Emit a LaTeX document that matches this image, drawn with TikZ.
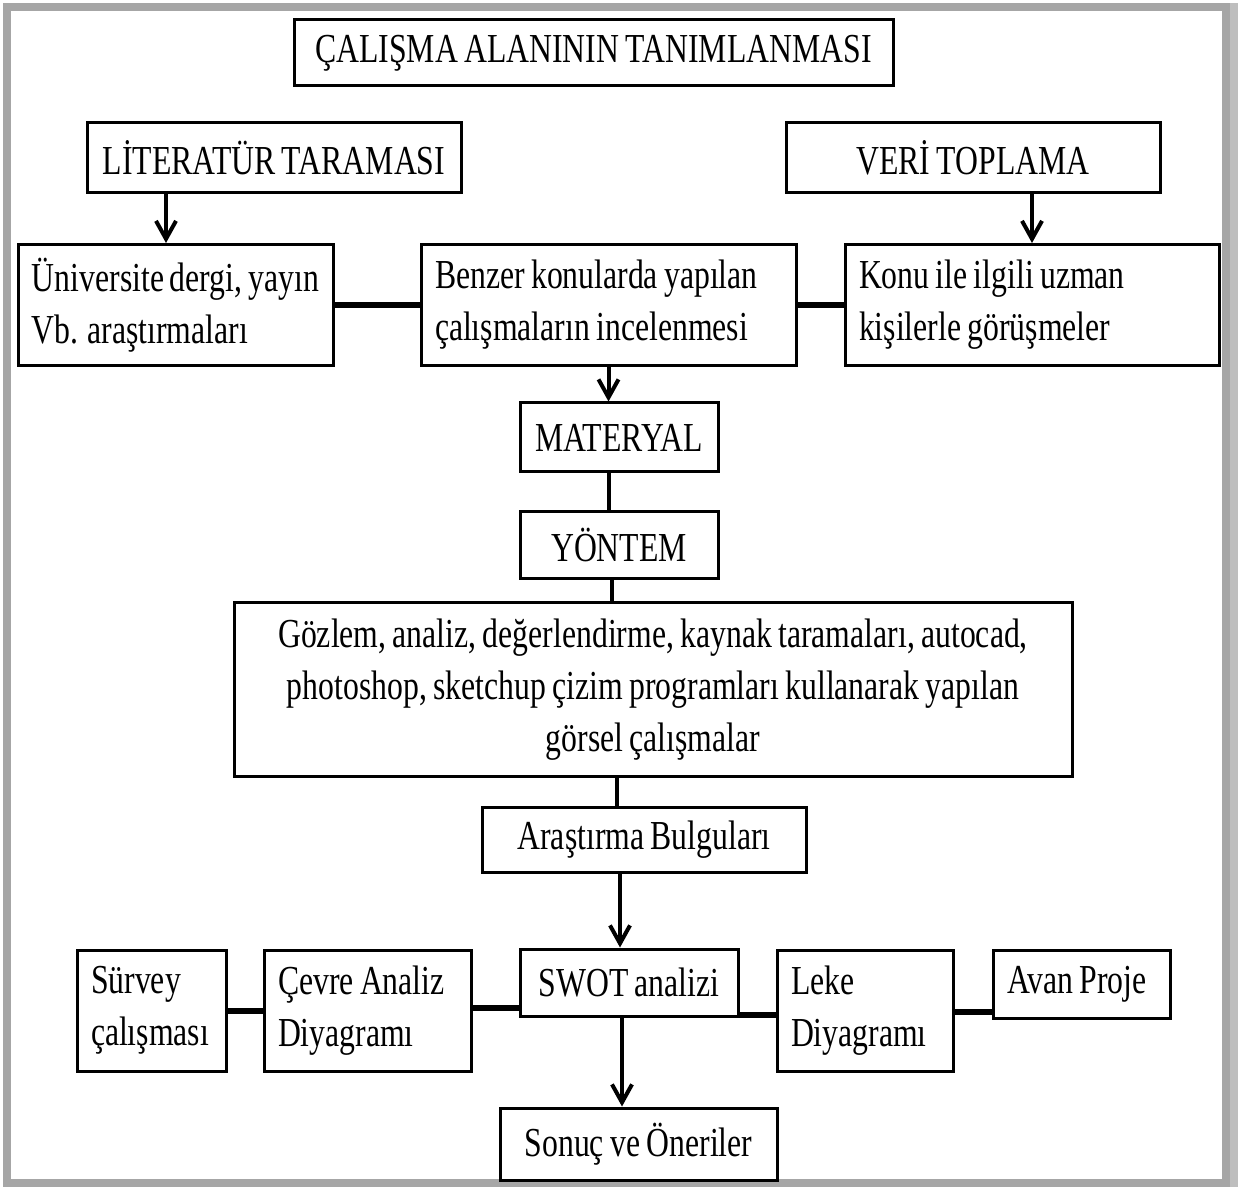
\documentclass[tikz,border=0pt]{standalone}
\usepackage{fontspec}
\setmainfont{Liberation Serif}[FakeStretch=0.77, WordSpace=0.8]
\usepackage{tikz}
\usetikzlibrary{calc}
\usetikzlibrary{arrows.meta}
\definecolor{cerceve}{RGB}{166,166,166}
\definecolor{golge}{RGB}{190,190,190}

\tikzset{
  kutu/.style={draw, line width=1.5pt, rectangle, inner sep=0pt, inner xsep=7pt,
    font=\fontsize{20.6pt}{26pt}\selectfont},
  solkutu/.style={kutu, align=flush left},
  ok/.style={line width=2pt, -{Straight Barb[length=9pt,width=10pt]}},
  bag/.style={line width=2pt},
  kalin/.style={line width=3pt}
}

\begin{document}
\begin{tikzpicture}[x=0.5pt,y=-0.5pt]
  \useasboundingbox (0,0) rectangle (1238,1187);
  % Frame
  \fill[golge] (1226,3) rectangle (1238,1187);
  \draw[cerceve, line width=4pt] (7,7) rectangle (1226,1183);

  % Title
  \node[kutu, minimum width=299.5pt, minimum height=33pt] (baslik) at (593.5,53) {ÇALIŞMA ALANININ TANIMLANMASI};

  % Sources
  \node[kutu, minimum width=187pt, minimum height=35pt] (lit) at (274,158) {LİTERATÜR TARAMASI};
  \node[kutu, minimum width=187pt, minimum height=35pt] (veri) at (973,158) {VERİ TOPLAMA};
  \node[solkutu, text width=143.5pt, minimum height=60.5pt] (uni) at (175.5,305) {Üniversite dergi, yayın\\Vb. araştırmaları};
  \node[solkutu, text width=173.5pt, minimum height=60.5pt] (benzer) at (608.5,305) {Benzer konularda yapılan\\çalışmaların incelenmesi};
  \node[solkutu, text width=173pt, minimum height=60.5pt] (konu) at (1032,305) {Konu ile ilgili uzman\\kişilerle görüşmeler};

  % Method
  \node[kutu, minimum width=99pt, minimum height=34.5pt] (mat) at (619,437.5) {MATERYAL};
  \node[kutu, minimum width=99pt, minimum height=33.5pt] (yon) at (619,545.5) {YÖNTEM};
  \node[kutu, align=center, minimum width=419pt, minimum height=86.5pt] (goz) at (653,689.5) {Gözlem, analiz, değerlendirme, kaynak taramaları, autocad,\\photoshop, sketchup çizim programları kullanarak yapılan\\görsel çalışmalar};
  \node[kutu, minimum width=162pt, minimum height=32.5pt] (aras) at (644,839.5) {Araştırma Bulguları};

  % Analyses
  \node[kutu, minimum width=109pt, minimum height=33.5pt] (swot) at (629,982.5) {SWOT analizi};
  \node[solkutu, text width=60.5pt, minimum height=60.5pt] (survey) at (151.5,1010.5) {Sürvey\\çalışması};
  \node[solkutu, text width=89.5pt, minimum height=60.5pt] (cevre) at (367.5,1010.5) {Çevre Analiz\\Diyagramı};
  \node[solkutu, text width=74pt, minimum height=60.5pt] (leke) at (865,1010.5) {Leke\\Diyagramı};
  \node[solkutu, text width=74.5pt, minimum height=34pt] (avan) at (1081.5,984) {Avan Proje};
  \node[kutu, minimum width=138.5pt, minimum height=36pt] (sonuc) at (638.5,1144) {Sonuç ve Öneriler};

  % Connectors
  \draw[ok] ([xshift=-4.75pt]uni.north |- lit.south) -- ([xshift=-4.75pt]uni.north);
  \draw[ok] (konu.north |- veri.south) -- (konu.north);
  \draw[kalin] (uni.east) -- (benzer.west);
  \draw[kalin] (benzer.east) -- (konu.west);
  \draw[ok] (benzer.south) -- (benzer.south |- mat.north);
  \draw[bag] ([xshift=-5pt]mat.south) -- ([xshift=-5pt]yon.north);
  \draw[bag] ([xshift=-3.5pt]yon.south) -- ([xshift=-3.5pt]yon.south |- goz.north);
  \draw[bag] ([xshift=-13.5pt]aras.north |- goz.south) -- ([xshift=-13.5pt]aras.north);
  \draw[ok] ([xshift=-4.5pt]swot.north |- aras.south) -- ([xshift=-4.5pt]swot.north);
  \draw[ok] ([xshift=-3.5pt]swot.south) -- ([xshift=-3.5pt]swot.south |- sonuc.north);
  \draw[kalin] (survey.east) -- (cevre.west);
  \draw[kalin] ([yshift=-12.75pt]swot.west -| cevre.east) -- ([yshift=-12.75pt]swot.west);
  \draw[kalin] ([yshift=-16pt]swot.east) -- ([yshift=-16pt]swot.east -| leke.west);
  \draw[kalin] ([yshift=-14pt]avan.west -| leke.east) -- ([yshift=-14pt]avan.west);
\end{tikzpicture}
\end{document}
